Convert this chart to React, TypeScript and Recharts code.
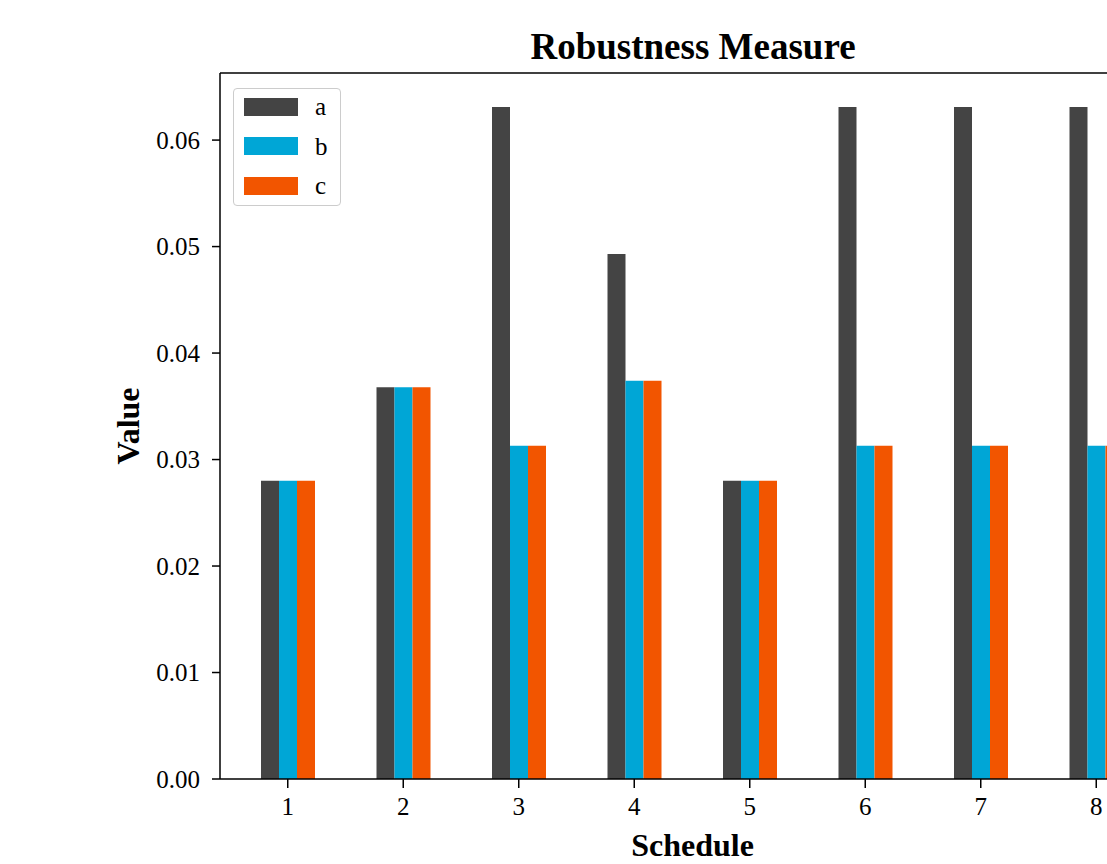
import React from "react";
import { BarChart, Bar, XAxis, YAxis, Legend, Label, ReferenceLine } from "recharts";

const schedules = ["1", "2", "3", "4", "5", "6", "7", "8"];
const seriesA = [0.028, 0.0368, 0.0631, 0.0493, 0.028, 0.0631, 0.0631, 0.0631];
const seriesB = [0.028, 0.0368, 0.0313, 0.0374, 0.028, 0.0313, 0.0313, 0.0313];
const seriesC = [0.028, 0.0368, 0.0313, 0.0374, 0.028, 0.0313, 0.0313, 0.0313];
const yTicks = [0, 0.01, 0.02, 0.03, 0.04, 0.05, 0.06];
const yMax = 0.0663;

const data = schedules.map((s, i) => ({ name: s, a: seriesA[i], b: seriesB[i], c: seriesC[i] }));

const FONT = "'Liberation Serif', 'DejaVu Serif', serif";

const LegendBox = (props: any) => {
  const payload = props.payload || [];
  return (
    <div
      style={{
        border: "1.5px solid #cccccc",
        borderRadius: 4,
        background: "#fff",
        padding: "0 10px",
        width: 86,
        height: 116,
        fontFamily: FONT,
        fontSize: 25,
        boxSizing: "content-box",
      }}
    >
      <div style={{ marginTop: -2 }}>
        {payload.map((p: any) => (
          <div key={p.value} style={{ display: "flex", alignItems: "center", height: 39.5 }}>
            <div style={{ width: 54, height: 18, background: p.color }} />
            <span style={{ marginLeft: 17, color: "#000", lineHeight: "25px" }}>{p.value}</span>
          </div>
        ))}
      </div>
    </div>
  );
};

export default function App() {
  return (
    <div style={{ position: "absolute", left: 0, top: 0, width: 1107, height: 864, overflow: "hidden", background: "#fff" }}>
      <div
        style={{
          position: "absolute",
          top: 27,
          left: 443,
          width: 500,
          textAlign: "center",
          fontFamily: FONT,
          fontWeight: "bold",
          fontSize: 37,
          lineHeight: "40px",
          color: "#000",
        }}
      >
        Robustness Measure
      </div>
      <BarChart
        width={1250}
        height={864}
        data={data}
        margin={{ top: 73, left: 120, right: 85, bottom: 0 }}
        barGap={0}
        barSize={18}
      >
        <XAxis
          dataKey="name"
          height={85}
          padding={{ left: 10, right: 11 }}
          tickLine={{ stroke: "#000", strokeWidth: 1.5 }}
          axisLine={{ stroke: "#000", strokeWidth: 1.5 }}
          tickSize={9}
          tickMargin={9}
          tick={{ fill: "#000", fontFamily: FONT, fontSize: 25 }}
        >
          <Label value="Schedule" position="insideBottom" offset={8} style={{ fill: "#000", fontFamily: FONT, fontSize: 32, fontWeight: "bold" }} />
        </XAxis>
        <YAxis
          width={100}
          domain={[0, yMax]}
          ticks={yTicks}
          allowDataOverflow
          tickFormatter={(v: number) => v.toFixed(2)}
          tickLine={{ stroke: "#000", strokeWidth: 1.5 }}
          axisLine={{ stroke: "#000", strokeWidth: 1.5 }}
          tickSize={8}
          tickMargin={12}
          tick={{ fill: "#000", fontFamily: FONT, fontSize: 25 }}
        >
          <Label value="Value" angle={-90} position="insideLeft" offset={8} style={{ fill: "#000", fontFamily: FONT, fontSize: 32, fontWeight: "bold", textAnchor: "middle" }} />
        </YAxis>
        <ReferenceLine y={yMax} stroke="#000" strokeWidth={1.5} ifOverflow="extendDomain" />
        <Legend
          content={<LegendBox />}
          layout="vertical"
          verticalAlign="middle"
          align="center"
          wrapperStyle={{ position: "absolute", left: 233, top: 88, width: "auto", height: "auto" }}
        />
        <Bar dataKey="a" name="a" fill="#444444" isAnimationActive={false} />
        <Bar dataKey="b" name="b" fill="#00a6d6" isAnimationActive={false} />
        <Bar dataKey="c" name="c" fill="#f25500" isAnimationActive={false} />
      </BarChart>
    </div>
  );
}
